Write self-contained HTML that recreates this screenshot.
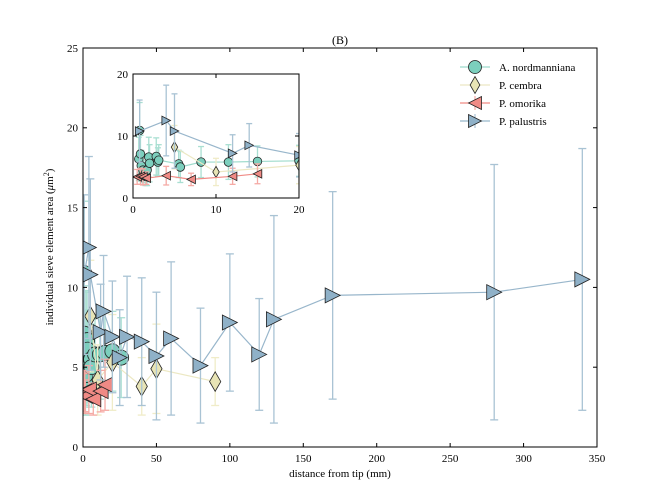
<!DOCTYPE html>
<html><head><meta charset="utf-8"><style>
body{margin:0;background:#fff}
svg{display:block;font-family:"Liberation Serif",serif}
</style></head><body>
<svg id="c" width="664" height="498" viewBox="0 0 664 498" xmlns="http://www.w3.org/2000/svg"></svg>
<script>
// A. nordmanniana
const nordX=[0.8,0.7,0.9,1.0,1.2,1.5,1.7,1.9,2.0,2.8,3.0,3.1,5.5,5.7,8.2,11.5,15,20,26];
const nordY=[10.9,6.3,7.1,5.2,4.5,4.0,4.5,6.6,5.6,6.7,5.8,6.1,5.5,5.0,5.8,5.8,5.9,6.0,5.6];
const nordE=[4.5,3.5,3,2.5,2,2,2.5,3.2,3,3,2.3,2.5,2.2,2.5,2.5,2.8,2.5,2.5,2.5];
// P. cembra
const cembX=[5,10,20,40,50,90];
const cembY=[8.2,4.2,5.3,3.8,4.9,4.1];
const cembE=[3.5,2.2,3,1.8,2.8,1.5];
// P. omorika
const omoX=[0.5,0.9,1.2,1.6,4,7,12,15];
const omoY=[3.4,3.5,3.4,3.2,3.6,3.0,3.5,3.9];
const omoE=[1.2,1.3,1.3,1.0,1.5,1.0,1.3,1.6];
// P. palustris
const palX=[0.8,4,5,12,14,20,25,30,40,50,60,80,100,120,130,170,280,340];
const palY=[10.8,12.5,10.8,7.2,8.5,6.9,5.6,6.9,6.6,5.7,6.8,5.1,7.8,5.8,8.0,9.5,9.7,10.5];
const palE=[5,5.7,6,3,3.5,3.5,3,3.8,4,4,4.8,3.6,4.3,3.5,6.5,6.5,8,8.2];
const xTicks=[0,50,100,150,200,250,300,350];
const yTicks=[0,5,10,15,20,25];
const inTicks=[0,10,20];

const NS="http://www.w3.org/2000/svg";
const svg=document.getElementById('c');
function el(t,a,p){const e=document.createElementNS(NS,t);for(const k in a)e.setAttribute(k,a[k]);(p||svg).appendChild(e);return e;}
const series=[
 {x:nordX,y:nordY,e:nordE,m:'circle',fill:'#7ccfbd',line:'#9edbcc',err:'#a9dfd2',name:'A. nordmanniana'},
 {x:cembX,y:cembY,e:cembE,m:'diamond',fill:'#e8e4b5',line:'#ece8c3',err:'#f0ecc8',name:'P. cembra'},
 {x:omoX,y:omoY,e:omoE,m:'left',fill:'#f08a85',line:'#f08a85',err:'#f5aaa5',name:'P. omorika'},
 {x:palX,y:palY,e:palE,m:'right',fill:'#8fb1c8',line:'#98b6cb',err:'#a9c3d4',name:'P. palustris'}];
function marker(g,m,cx,cy,r,fill){
 let e;
 if(m==='circle')e=el('circle',{cx,cy,r,fill,stroke:'#222','stroke-width':0.8},g);
 else if(m==='diamond')e=el('polygon',{points:`${cx},${cy-r*1.3} ${cx+r*0.75},${cy} ${cx},${cy+r*1.3} ${cx-r*0.75},${cy}`,fill,stroke:'#222','stroke-width':0.8},g);
 else if(m==='left')e=el('polygon',{points:`${cx-r},${cy} ${cx+r},${cy-r} ${cx+r},${cy+r}`,fill,stroke:'#222','stroke-width':0.8},g);
 else e=el('polygon',{points:`${cx+r},${cy} ${cx-r},${cy-r} ${cx-r},${cy+r}`,fill,stroke:'#222','stroke-width':0.8},g);
 return e;
}
function drawAxes(ax){
 const sx=v=>ax.x0+(v-ax.xmin)/(ax.xmax-ax.xmin)*(ax.x1-ax.x0);
 const sy=v=>ax.y0-(v-ax.ymin)/(ax.ymax-ax.ymin)*(ax.y0-ax.y1);
 el('rect',{x:ax.x0,y:ax.y1,width:ax.x1-ax.x0,height:ax.y0-ax.y1,fill:'#fff'});
 const cid='clip'+ax.id;
 const cp=el('clipPath',{id:cid});el('rect',{x:ax.x0,y:ax.y1,width:ax.x1-ax.x0,height:ax.y0-ax.y1},cp);
 const g=el('g',{'clip-path':`url(#${cid})`});
 
 series.forEach((s,si)=>{
  const sg=el('g',{},g);
  
  s.x.forEach((v,i)=>{const X=sx(v);const a=sy(s.y[i]+s.e[i]),b=sy(Math.max(0,s.y[i]-s.e[i]));
   el('line',{x1:X,x2:X,y1:a,y2:b,stroke:s.err,'stroke-width':1.3},sg);
   el('line',{x1:X-ax.cap,x2:X+ax.cap,y1:a,y2:a,stroke:s.err,'stroke-width':1.3},sg);
   el('line',{x1:X-ax.cap,x2:X+ax.cap,y1:b,y2:b,stroke:s.err,'stroke-width':1.3},sg);});
  el('polyline',{points:s.x.map((v,i)=>sx(v)+','+sy(s.y[i])).join(' '),fill:'none',stroke:s.line,'stroke-width':1.2},sg);
  s.x.forEach((v,i)=>{const mk=marker(sg,s.m,sx(v),sy(s.y[i]),ax.r,s.fill);
   });
 });
 el('rect',{x:ax.x0,y:ax.y1,width:ax.x1-ax.x0,height:ax.y0-ax.y1,fill:'none',stroke:'#000','stroke-width':1});
 ax.xt.forEach(v=>{const X=sx(v);el('line',{x1:X,x2:X,y1:ax.y0,y2:ax.y0-4,stroke:'#000'});el('line',{x1:X,x2:X,y1:ax.y1,y2:ax.y1+4,stroke:'#000'});
  const t=el('text',{x:X,y:ax.y0+ax.fs+4,'text-anchor':'middle','font-size':ax.fs});t.textContent=v;
  });
 ax.yt.forEach(v=>{const Y=sy(v);el('line',{x1:ax.x0,x2:ax.x0+4,y1:Y,y2:Y,stroke:'#000'});el('line',{x1:ax.x1,x2:ax.x1-4,y1:Y,y2:Y,stroke:'#000'});
  const t=el('text',{x:ax.x0-5,y:Y+ax.fs*0.35,'text-anchor':'end','font-size':ax.fs});t.textContent=v;
  });
}
drawAxes({id:'main',x0:83,x1:597,y0:447,y1:48,xmin:0,xmax:350,ymin:0,ymax:25,xt:xTicks,yt:yTicks,fs:11,r:7.5,cap:4});
drawAxes({id:'inset',x0:133,x1:299,y0:198,y1:74,xmin:0,xmax:20,ymin:0,ymax:20,xt:inTicks,yt:inTicks,fs:11,r:4.3,cap:3});
let t=el('text',{x:340,y:44,'text-anchor':'middle','font-size':12});t.textContent='(B)';

t=el('text',{x:340,y:477,'text-anchor':'middle','font-size':11});t.textContent='distance from tip (mm)';

t=el('text',{x:0,y:0,'text-anchor':'middle','font-size':11,transform:'translate(53,247) rotate(-90)'});
t.innerHTML='individual sieve element area (<tspan font-style="italic">μ</tspan>m<tspan baseline-shift="super" font-size="8">2</tspan>)';

series.forEach((s,i)=>{const y=67+i*18;const g=el('g',{});
 
 el('line',{x1:460,x2:490,y1:y,y2:y,stroke:s.line,'stroke-width':1.2},g);
 el('line',{x1:475,x2:475,y1:y-7,y2:y+7,stroke:s.err,'stroke-width':1.2},g);
 marker(g,s.m,475,y,6.5,s.fill);
 const tt=el('text',{x:499,y:y+4,'font-size':11},g);tt.textContent=s.name;});
</script>
</body></html>
